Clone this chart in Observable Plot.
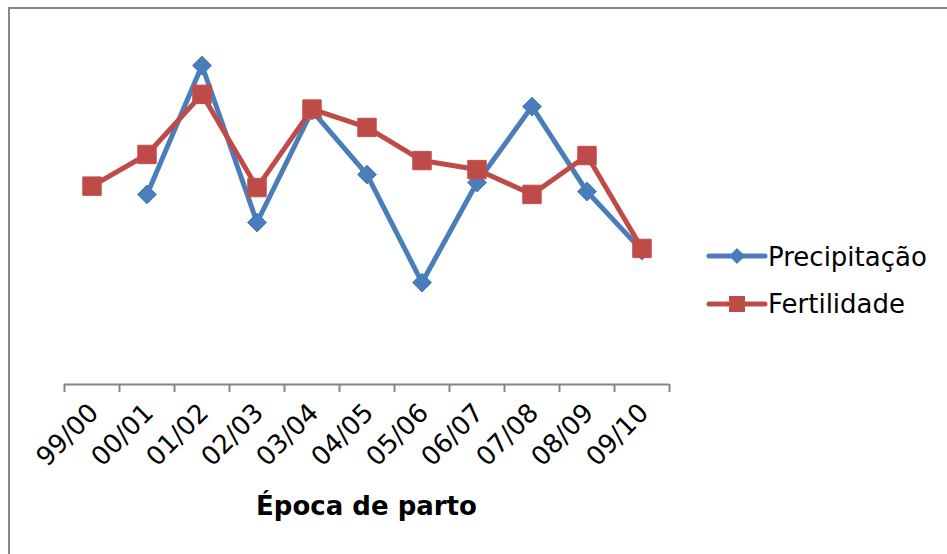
<!DOCTYPE html>
<html lang="pt">
<head>
<meta charset="utf-8">
<script src="https://cdn.jsdelivr.net/npm/d3@7"></script>
<script src="https://cdn.jsdelivr.net/npm/@observablehq/plot@0.6"></script>
<style>
  html, body { margin: 0; padding: 0; background: #fff; overflow: hidden; }
  #chart { position: relative; width: 947px; height: 554px; overflow: hidden; font-family: "DejaVu Sans", Verdana, sans-serif; }
  #chart svg.plot { position: absolute; left: 0; top: 0; }
  #frame { position: absolute; left: 8px; top: 7px; width: 2000px; height: 2000px;
           border-left: 2px solid #878787; border-top: 2px solid #878787; pointer-events: none; }
  #xtitle { position: absolute; left: 64px; width: 605px; top: 493px; text-align: center;
            font: bold 26px/26px "DejaVu Sans", Verdana, sans-serif; color: #000; }
  #legend { position: absolute; left: 700px; top: 230px; }
</style>
</head>
<body>
<div id="chart">
  <div id="xtitle">Época de parto</div>
  <svg id="legend" width="247" height="100" font-family="DejaVu Sans, Verdana, sans-serif" font-size="26">
    <line x1="9" x2="65" y1="26" y2="26" stroke="#4A7EBB" stroke-width="5" stroke-linecap="round"/>
    <path d="M37,18 L45,26 L37,34 L29,26 Z" fill="#4A7EBB"/>
    <text x="68" y="36" fill="#000">Precipitação</text>
    <line x1="9" x2="65" y1="74" y2="74" stroke="#BE4B48" stroke-width="5" stroke-linecap="round"/>
    <rect x="29" y="66" width="16" height="16" fill="#BE4B48"/>
    <text x="68" y="83" fill="#000">Fertilidade</text>
  </svg>
  <div id="frame"></div>
</div>
<script>
// Calving seasons (época de parto)
const categories = ["99/00", "00/01", "01/02", "02/03", "03/04", "04/05", "05/06", "06/07", "07/08", "08/09", "09/10"];
// Relative rainfall index per season (no value for 99/00)
const precipitacao = [null, 52.8, 88.6, 45.0, 76.1, 58.3, 28.3, 56.1, 77.2, 53.6, 37.2];
// Relative fertility index per season
const fertilidade = [55.1, 63.9, 80.6, 54.7, 76.5, 71.4, 62.2, 59.7, 52.8, 63.6, 37.8];

const idx = categories.map((_, i) => i);
const boundaries = d3.range(-0.5, categories.length, 1);

const precipRows = idx.filter(i => precipitacao[i] != null).map(i => ({i, v: precipitacao[i]}));
const fertRows = idx.map(i => ({i, v: fertilidade[i]}));
const labelRows = idx.map(i => ({i, label: categories[i]}));

const blue = "#4A7EBB";
const red = "#BE4B48";
const axisGrey = "#868686";

const chart = Plot.plot({
  width: 947,
  height: 554,
  marginLeft: 64,
  marginRight: 278,
  marginTop: 24,
  marginBottom: 170,
  style: {fontFamily: "DejaVu Sans, Verdana, sans-serif", fontSize: "24px", background: "transparent", color: "#000"},
  x: {type: "linear", domain: [-0.5, categories.length - 0.5], axis: null},
  y: {domain: [0, 100], axis: null},
  marks: [
    Plot.ruleY([0], {stroke: axisGrey, strokeWidth: 2}),
    // category boundary ticks below the baseline
    Plot.axisX({ticks: boundaries, tickSize: 8, tickFormat: () => "", label: null,
                stroke: axisGrey, strokeWidth: 2, strokeOpacity: 1}),
    Plot.text(labelRows, {
      x: "i", y: 0, text: "label", rotate: -45, textAnchor: "end", lineAnchor: "middle",
      dx: 2, dy: 24, fontSize: 26, fill: "#000"
    }),
    Plot.lineY(precipRows, {x: "i", y: "v", stroke: blue, strokeWidth: 5, strokeLinejoin: "round", strokeLinecap: "round"}),
    Plot.dot(precipRows, {x: "i", y: "v", symbol: "diamond2", r: 8.5, fill: blue, stroke: blue, strokeWidth: 1}),
    Plot.lineY(fertRows, {x: "i", y: "v", stroke: red, strokeWidth: 5, strokeLinejoin: "round", strokeLinecap: "round"}),
    Plot.dot(fertRows, {x: "i", y: "v", symbol: "square", r: 10.4, fill: red, stroke: "#C0504D", strokeWidth: 1})
  ]
});

document.getElementById("chart").insertBefore(chart, document.getElementById("xtitle"));
</script>
</body>
</html>
